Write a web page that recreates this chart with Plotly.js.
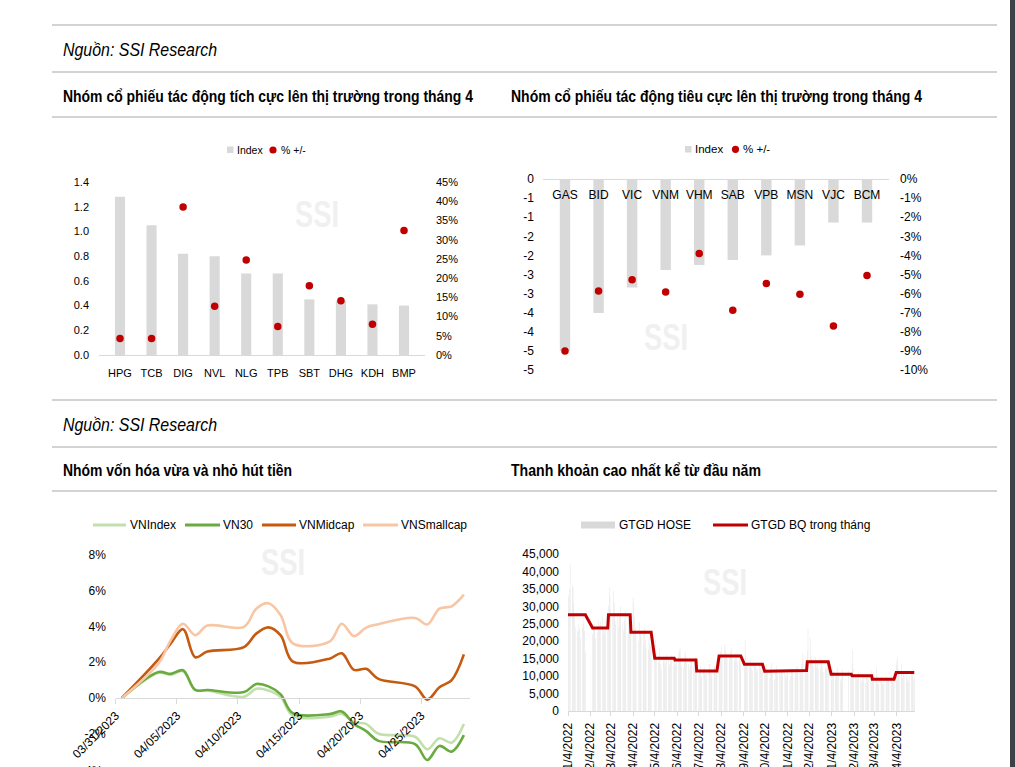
<!DOCTYPE html>
<html>
<head>
<meta charset="utf-8">
<script src="https://cdn.plot.ly/plotly-3.0.1.min.js"></script>
<style>
html,body{margin:0;padding:0;background:#fff;overflow:hidden;}
#chart{width:1015px;height:767px;}
</style>
</head>
<body>
<div id="chart"></div>
<script>
// ---------- DATA ----------
// Chart 1: positive contributors
const posCats = ['HPG','TCB','DIG','NVL','NLG','TPB','SBT','DHG','KDH','BMP'];
const posIndex = [1.28, 1.05, 0.82, 0.80, 0.66, 0.66, 0.45, 0.44, 0.41, 0.40];
const posPct = [4.3, 4.3, 38.5, 12.7, 24.7, 7.4, 18.0, 14.1, 8.0, 32.4];
const posLeftTicks = [0, 0.2, 0.4, 0.6, 0.8, 1.0, 1.2, 1.4];
const posLeftText = ['0.0','0.2','0.4','0.6','0.8','1.0','1.2','1.4'];
const posRightTicks = [0, 5, 10, 15, 20, 25, 30, 35, 40, 45];
const posRightText = ['0%','5%','10%','15%','20%','25%','30%','35%','40%','45%'];

// Chart 2: negative contributors
const negCats = ['GAS','BID','VIC','VNM','VHM','SAB','VPB','MSN','VJC','BCM'];
const negIndex = [-4.50, -3.51, -2.84, -2.38, -2.25, -2.12, -2.00, -1.74, -1.14, -1.14];
const negPct = [-9.0, -5.86, -5.28, -5.91, -3.90, -6.87, -5.47, -6.03, -7.69, -5.05];
const negLeftTicks = [0, -0.5, -1, -1.5, -2, -2.5, -3, -3.5, -4, -4.5, -5];
const negLeftText = ['0','-1','-1','-2','-2','-3','-3','-4','-4','-5','-5'];
const negRightTicks = [0, -1, -2, -3, -4, -5, -6, -7, -8, -9, -10];
const negRightText = ['0%','-1%','-2%','-3%','-4%','-5%','-6%','-7%','-8%','-9%','-10%'];

// Chart 3: index performance in April 2023 (%)
const perfDates = ['2023-03-31','2023-04-03','2023-04-04','2023-04-05','2023-04-06','2023-04-07','2023-04-10','2023-04-11','2023-04-12','2023-04-13','2023-04-14','2023-04-17','2023-04-18','2023-04-19','2023-04-20','2023-04-21','2023-04-24','2023-04-25','2023-04-26','2023-04-27','2023-04-28'];
const vnIndex    = [0, 1.40, 1.30, 1.50, 0.45, 0.42, 0.07, 0.52, 0.42, 0.05, -1.00, -1.05, -0.88, -1.35, -1.45, -2.00, -2.17, -2.87, -2.25, -2.50, -1.46];
const vn30       = [0, 1.45, 1.35, 1.55, 0.45, 0.45, 0.33, 0.78, 0.65, 0.20, -0.85, -0.90, -0.75, -1.45, -1.85, -2.40, -2.58, -3.47, -2.68, -3.00, -2.08];
const vnMidcap   = [0, 2.17, 3.05, 3.85, 2.28, 2.60, 2.85, 3.60, 3.95, 3.50, 2.04, 2.20, 2.50, 1.57, 1.63, 1.07, 0.65, -0.09, 0.60, 1.00, 2.44];
const vnSmallcap = [0, 1.94, 3.24, 4.15, 3.52, 4.05, 3.98, 5.00, 5.30, 4.63, 3.06, 3.15, 4.15, 3.46, 3.94, 4.13, 4.48, 4.11, 5.00, 5.13, 5.78];
const perfTickDates = ['2023-03-31','2023-04-05','2023-04-10','2023-04-15','2023-04-20','2023-04-25'];
const perfTickText = ['03/31/2023','04/05/2023','04/10/2023','04/15/2023','04/20/2023','04/25/2023'];
const perfYTicks = [-2, 0, 2, 4, 6, 8];
const perfYText = ['-2%','0%','2%','4%','6%','8%'];

// Chart 4: HOSE daily trading value (bn VND) and monthly average
const hoseMonths = ['2022-01','2022-02','2022-03','2022-04','2022-05','2022-06','2022-07','2022-08','2022-09','2022-10','2022-11','2022-12','2023-01','2023-02','2023-03','2023-04'];
const hoseHolidays = ['2022-01-03','2022-01-31','2022-02-01','2022-02-02','2022-02-03','2022-02-04','2022-04-11','2022-05-02','2022-05-03','2022-09-01','2022-09-02','2023-01-02','2023-01-20','2023-01-23','2023-01-24','2023-01-25','2023-01-26'];
const hoseJan22 = [30000,33000,35000,42000,36000,35500,31000,28000,24000,23000,22500,25000,23500,21000,24000,26000,25000,23000,17000];
const hoseFeb22 = [22000,23500,25000,24000,21000,22500,26000,24500,23000,25500,27000,24000,22000,23000,24500,23000];
const hoseMar22 = [30000,35500,33000,29000,27000,34500,31000,26000,25000,28000,24000,26500,27500,30000,25500,23000,26000,29000,24500,22000,26000,25000,27000];
const hoseApr22 = [26000,32500,31000,27000,24000,22000,20000,25500,23000,21500,19000,22000,24000,20500,18000,17500,21000,19500,18500,20000];
const hoseMay22 = [19000,20500,17000,14000,16500,18000,13500,12000,14500,15500,13000,14000,16000,15000,12500,13500,14500,16000,13000,14500];
const hoseJun22 = [15000,13500,14000,16500,17500,18000,15500,13000,12500,14000,17000,16000,14500,13500,12000,13000,15000,14500,13000,14000,15500,12500];
const hoseJul22 = [11000,10500,12000,13000,9500,10000,11500,12500,10500,9000,11000,12000,13500,12000,11500,10000,12500,13000,11000,12500,12000];
const hoseAug22 = [14000,15500,17000,18500,16000,15000,19000,17500,16500,15000,14500,16000,17000,18000,15500,14000,15000,16500,15500,14000,15000,16000,13500];
const hoseSep22 = [15000,20500,16000,14000,13000,12500,14500,13500,12000,11500,13000,14000,12500,11000,12000,13500,12500,14000,11500,12000];
const hoseOct22 = [12500,11000,10000,13500,12000,9500,11000,12500,14000,10500,9000,11500,13000,12000,10000,11000,10500,12000,11500,10000,12000];
const hoseNov22 = [10000,9500,11000,10500,9000,10000,11500,12000,10500,9500,11000,12500,13000,10000,11500,12000,13500,14000,16500,12000,11000,13500];
const hoseDec22 = [17000,23500,21000,16000,15000,14000,13000,15500,14500,12500,13500,12000,11500,13000,14000,12500,11000,12500,13000,12000,14000,12000];
const hoseJan23 = [9000,10500,12000,11500,10000,9500,11000,12500,10500,9000,8500,10000,12000,11500,10000,10500];
const hoseFeb23 = [13500,17500,12000,10500,9500,9000,10000,11000,9500,8500,9000,10500,9000,8000,9500,10000,8500,9000,10500,11500];
const hoseMar23 = [9500,10500,8500,9000,12500,8000,7500,8500,9000,10000,8000,7500,9500,10000,8500,9000,9500,8000,9000,10000,8500,9000,11000];
const hoseApr23 = [13000,14500,15500,12000,11000,13500,10500,9500,11000,10000,9500,10500,9000,8500,10000,11500,12000,10500,9000,9500];
const hoseMonthlyAvg = [27600,23800,27600,22600,15100,14600,11500,15800,13400,11400,11600,14100,10500,10100,9100,11000];
const hoseByMonth = [hoseJan22,hoseFeb22,hoseMar22,hoseApr22,hoseMay22,hoseJun22,hoseJul22,hoseAug22,hoseSep22,hoseOct22,hoseNov22,hoseDec22,hoseJan23,hoseFeb23,hoseMar23,hoseApr23];
const hoseTickDates = ['2022-01-04','2022-02-04','2022-03-04','2022-04-04','2022-05-04','2022-06-04','2022-07-04','2022-08-04','2022-09-04','2022-10-04','2022-11-04','2022-12-04','2023-01-04','2023-02-04','2023-03-04','2023-04-04'];
const hoseTickText = ['1/4/2022','2/4/2022','3/4/2022','4/4/2022','5/4/2022','6/4/2022','7/4/2022','8/4/2022','9/4/2022','10/4/2022','11/4/2022','12/4/2022','1/4/2023','2/4/2023','3/4/2023','4/4/2023'];

// ---------- BUILD ----------
function tradingDays(ym){
  const [y,m] = ym.split('-').map(Number);
  const out = [];
  for (let d=1; d<=31; d++){
    const dt = new Date(Date.UTC(y, m-1, d));
    if (dt.getUTCMonth() !== m-1) break;
    const wd = dt.getUTCDay();
    if (wd === 0 || wd === 6) continue;
    const s = dt.toISOString().slice(0,10);
    if (hoseHolidays.includes(s)) continue;
    out.push(s);
  }
  return out;
}
const hoseDates = [], hoseVals = [], hoseAvg = [];
hoseMonths.forEach((ym, i) => {
  const days = tradingDays(ym);
  const vals = hoseByMonth[i];
  const n = Math.min(days.length, vals.length);
  for (let k=0; k<n; k++){ hoseDates.push(days[k]); hoseVals.push(vals[k]); hoseAvg.push(hoseMonthlyAvg[i]); }
});

const W = 1015, H = 767;
const px = v => v / W;
const py = v => 1 - v / H;
const F = 'Liberation Sans, Arial, sans-serif';
const RED = '#c00000';
const BAR = '#d9d9d9';

const traces = [
  {type:'bar', x:posCats, y:posIndex, xaxis:'x', yaxis:'y', width:0.32, marker:{color:BAR}, name:'Index'},
  {type:'scatter', mode:'markers', x:posCats, y:posPct, xaxis:'x', yaxis:'y2', marker:{color:RED, size:7.5}, name:'% +/-'},
  {type:'bar', x:negCats, y:negIndex, xaxis:'x2', yaxis:'y3', width:0.31, marker:{color:BAR}, name:'Index'},
  {type:'scatter', mode:'markers', x:negCats, y:negPct, xaxis:'x2', yaxis:'y4', marker:{color:RED, size:7.5}, name:'% +/-'},
  {type:'scatter', mode:'lines', x:perfDates.map(d=>d+' 12:00'), y:vnIndex, xaxis:'x3', yaxis:'y5', line:{color:'#c2e0ad', width:2.6, shape:'spline', smoothing:1}, name:'VNIndex'},
  {type:'scatter', mode:'lines', x:perfDates.map(d=>d+' 12:00'), y:vn30, xaxis:'x3', yaxis:'y5', line:{color:'#6aab40', width:2.6, shape:'spline', smoothing:1}, name:'VN30'},
  {type:'scatter', mode:'lines', x:perfDates.map(d=>d+' 12:00'), y:vnMidcap, xaxis:'x3', yaxis:'y5', line:{color:'#c55a11', width:2.6, shape:'spline', smoothing:1}, name:'VNMidcap'},
  {type:'scatter', mode:'lines', x:perfDates.map(d=>d+' 12:00'), y:vnSmallcap, xaxis:'x3', yaxis:'y5', line:{color:'#f8c6a4', width:2.6, shape:'spline', smoothing:1}, name:'VNSmallcap'},
  {type:'bar', x:hoseDates, y:hoseVals, xaxis:'x4', yaxis:'y6', width:0.7*86400000, marker:{color:'#e3e3e3', line:{width:0}}, name:'GTGD HOSE'},
  {type:'scatter', mode:'lines', x:hoseDates, y:hoseAvg, xaxis:'x4', yaxis:'y6', line:{color:RED, width:3}, name:'GTGD BQ trong tháng'}
];

const tf = (s) => ({family:F, size:s, color:'#000'});
const base = {showgrid:false, zeroline:false, fixedrange:true};

function txt(x, y, text, size, family, color, anchor){
  return {xref:'paper', yref:'paper', x:px(x), y:py(y), text:text, showarrow:false, align:'left',
    xanchor:anchor||'left', yanchor:'middle', font:{family:family||F, size:size, color:color||'#000'}};
}
function hline(x0, x1, y, color, w){
  return {type:'line', xref:'paper', yref:'paper', x0:px(x0), x1:px(x1), y0:py(y), y1:py(y), line:{color:color, width:w}};
}
function rect(x0, x1, y0, y1, color){
  return {type:'rect', xref:'paper', yref:'paper', x0:px(x0), x1:px(x1), y0:py(y0), y1:py(y1), fillcolor:color, line:{width:0}};
}
function dot(cx, cy, r, color){
  return {type:'circle', xref:'paper', yref:'paper', x0:px(cx-r), x1:px(cx+r), y0:py(cy+r), y1:py(cy-r), fillcolor:color, line:{width:0}};
}

const shapes = [
  hline(52, 997, 25, '#c4c4c4', 1.5),
  hline(52, 997, 72, '#c4c4c4', 1.5),
  hline(52, 997, 117, '#c4c4c4', 1.5),
  hline(52, 997, 400, '#c4c4c4', 1.5),
  hline(52, 997, 447, '#c4c4c4', 1.5),
  hline(52, 997, 491, '#c4c4c4', 1.5),
  rect(1010, 1015, 0, 767, '#3d4145'),
  rect(227, 233.5, 146.5, 153, BAR),
  dot(273, 150, 3.6, RED),
  rect(685, 691.5, 146, 152.5, BAR),
  dot(735.5, 149.3, 3.6, RED),
  hline(93, 126, 525, '#c2e0ad', 3),
  hline(185, 220, 525, '#6aab40', 3),
  hline(262, 296, 525, '#c55a11', 3),
  hline(363, 398, 525, '#f8c6a4', 3),
  rect(581, 615, 521.5, 528.5, BAR),
  hline(713, 748, 525, RED, 3)
];

const wm = (x, y) => ({xref:'paper', yref:'paper', x:px(x), y:py(y), text:'<b>SSI</b>', showarrow:false, align:'left',
  xanchor:'center', yanchor:'middle', font:{family:F, size:36, color:'#f0f0f0'}});

// header texts (index 0..5) and watermarks (6..9) are condensed to the reference widths after drawing
const annotations = [
  txt(61, 50, '<i>Nguồn: SSI Research</i>', 18),
  txt(61, 97, '<b>Nhóm cổ phiếu tác động tích cực lên thị trường trong tháng 4</b>', 16),
  txt(509, 97, '<b>Nhóm cổ phiếu tác động tiêu cực lên thị trường trong tháng 4</b>', 16),
  txt(61, 425, '<i>Nguồn: SSI Research</i>', 18),
  txt(61, 470, '<b>Nhóm vốn hóa vừa và nhỏ hút tiền</b>', 16),
  txt(509, 470, '<b>Thanh khoản cao nhất kể từ đầu năm</b>', 16),
  wm(317, 214), wm(666, 338), wm(283, 562), wm(725, 582),
  txt(235, 150, 'Index', 10.5), txt(279, 150, '% +/-', 10.5),
  txt(693, 149.3, 'Index', 11.5), txt(741, 149.3, '% +/-', 11.5),
  txt(128, 525, 'VNIndex', 12), txt(221, 525, 'VN30', 12), txt(297, 525, 'VNMidcap', 12), txt(399, 525, 'VNSmallcap', 12),
  txt(617, 525, 'GTGD HOSE', 12), txt(749, 525, 'GTGD BQ trong tháng', 12),
  txt(105, 771, '-4%', 12, F, '#000', 'right')
];
const condensedWidths = {0:154, 1:410, 2:411, 3:154, 4:229, 5:250, 6:44, 7:44, 8:44, 9:44};

const layout = {
  width: W, height: H,
  margin: {l:0, r:0, t:0, b:0, pad:0},
  paper_bgcolor: '#fff', plot_bgcolor: 'rgba(0,0,0,0)',
  showlegend: false, hovermode: false,
  font: {family: F, size: 11, color: '#000'},
  barmode: 'overlay',
  xaxis: Object.assign({}, base, {domain:[px(99), px(425)], anchor:'y', type:'category', showline:true, linecolor:'#d9d9d9', linewidth:1, ticks:'', tickfont:tf(11), ticklabelstandoff:8}),
  yaxis: Object.assign({}, base, {domain:[py(355), py(182)], anchor:'x', range:[0,1.4], tickvals:posLeftTicks, ticktext:posLeftText, tickfont:tf(11), ticklabelstandoff:9}),
  yaxis2: Object.assign({}, base, {overlaying:'y', anchor:'x', side:'right', range:[0,45], tickvals:posRightTicks, ticktext:posRightText, tickfont:tf(11), ticklabelstandoff:10}),
  xaxis2: Object.assign({}, base, {domain:[px(543), px(889)], anchor:'free', position:py(179), type:'category', showline:true, linecolor:'#d9d9d9', linewidth:1, ticks:'', tickfont:tf(12), ticklabelstandoff:5}),
  yaxis3: Object.assign({}, base, {domain:[py(370), py(179)], anchor:'x2', range:[-5,0], tickvals:negLeftTicks, ticktext:negLeftText, tickfont:tf(12), ticklabelstandoff:8}),
  yaxis4: Object.assign({}, base, {overlaying:'y3', anchor:'x2', side:'right', range:[-10,0], tickvals:negRightTicks, ticktext:negRightText, tickfont:tf(12), ticklabelstandoff:10}),
  xaxis3: Object.assign({}, base, {domain:[px(115.8), px(470)], anchor:'free', position:py(698), type:'date', range:['2023-03-31','2023-04-29'], tickvals:perfTickDates, ticktext:perfTickText, tickangle:-45, showline:true, linecolor:'#d9d9d9', linewidth:1, ticks:'outside', ticklen:5, tickcolor:'#d9d9d9', tickfont:tf(12), ticklabelstandoff:0}),
  yaxis5: Object.assign({}, base, {domain:[0, py(555)], anchor:'x3', range:[-69/17.875, 8], tickvals:perfYTicks, ticktext:perfYText, tickfont:tf(12), ticklabelstandoff:9}),
  xaxis4: Object.assign({}, base, {domain:[px(568), px(915)], anchor:'y6', type:'date', range:['2022-01-04','2023-04-29'], tickvals:hoseTickDates, ticktext:hoseTickText, tickangle:-90, showline:true, linecolor:'#d9d9d9', linewidth:1, ticks:'outside', ticklen:4, tickcolor:'#d9d9d9', tickfont:tf(12), ticklabelstandoff:2}),
  yaxis6: Object.assign({}, base, {domain:[py(711), py(554)], anchor:'x4', range:[0,45000], dtick:5000, tickformat:',d', tickfont:tf(12), ticklabelstandoff:8}),
  shapes: shapes,
  annotations: annotations
};

Plotly.newPlot('chart', traces, layout, {staticPlot:true, displayModeBar:false}).then(gd => {
  Object.keys(condensedWidths).forEach(i => {
    const t = gd.querySelector('.annotation[data-index="' + i + '"] text.annotation-text');
    if (!t) return;
    const b0 = t.getBBox();
    const anchor = t.getAttribute('text-anchor') || 'start';
    t.setAttribute('textLength', condensedWidths[i]);
    t.setAttribute('lengthAdjust', 'spacingAndGlyphs');
    const b1 = t.getBBox();
    let dx = 0;
    if (i >= 6) {
      dx = (b0.x + b0.width / 2) - (b1.x + b1.width / 2);
    } else {
      dx = b0.x - b1.x;
    }
    if (Math.abs(b1.width - b0.width) < 0.5) {
      // bbox did not reflect textLength; estimate shift from anchor
      const w = b0.width, tw = condensedWidths[i];
      if (i < 6) dx = anchor === 'middle' ? -(w - tw) / 2 : (anchor === 'end' ? -(w - tw) : 0);
      else dx = anchor === 'middle' ? 0 : (anchor === 'end' ? -(w - tw) / 2 : (w - tw) / 2);
    }
    if (dx) t.setAttribute('transform', 'translate(' + dx + ',0)');
  });
});
</script>
</body>
</html>
